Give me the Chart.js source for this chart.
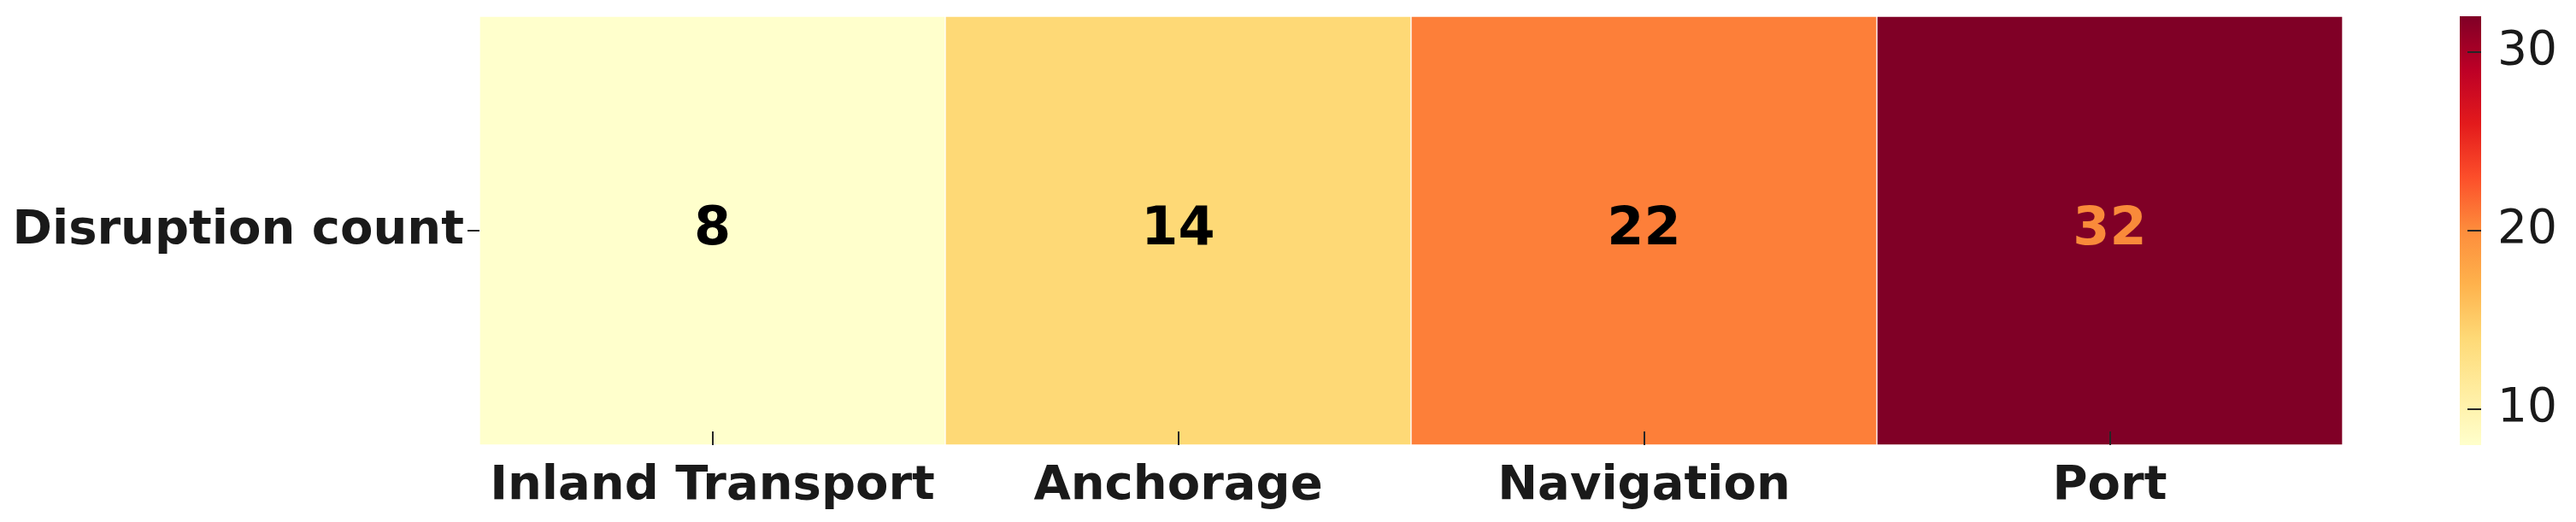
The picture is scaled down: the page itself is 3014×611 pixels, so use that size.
<!DOCTYPE html>
<html lang="en">
<head>
  <meta charset="UTF-8">
  <title>Disruption count heatmap</title>
  <script src="https://cdn.jsdelivr.net/npm/chart.js"></script>
  <style>
    html, body { margin: 0; padding: 0; background: #fff; }
    #wrap { width: 3014px; height: 611px; }
  </style>
</head>
<body>
  <div id="wrap"><canvas id="heatmap"></canvas></div>

  <script>
    // data
    const categories = ['Inland Transport', 'Anchorage', 'Navigation', 'Port'];
    const rowLabels = ['Disruption count'];
    const values = [8, 14, 22, 32];
    const colorbarTicks = [10, 20, 30];
    const colorbarMin = 8;
    const colorbarMax = 32;

    // styles
    const cellColors = ['#ffffcc', '#fed976', '#fd7f39', '#800026'];
    const annotColors = ['#000000', '#000000', '#000000', '#f98a3a'];
    const ylorrd = ['#ffffcc', '#ffeda0', '#fed976', '#feb24c', '#fd8d3c', '#fc4e2a', '#e31a1c', '#bd0026', '#800026'];
    const FONT = "'DejaVu Sans', sans-serif";

    // no extra padding from tick labels, layout is fixed by hand
    const noPad = s => { s.paddingTop = 0; s.paddingBottom = 0; s.paddingLeft = 0; s.paddingRight = 0; };

    // values inside the cells
    const annotPlugin = {
      id: 'annot',
      afterDatasetsDraw(chart) {
        const ctx = chart.ctx;
        const meta = chart.getDatasetMeta(0);
        ctx.save();
        ctx.font = 'bold 62px ' + FONT;
        ctx.textAlign = 'center';
        ctx.textBaseline = 'middle';
        meta.data.forEach((bar, i) => {
          ctx.fillStyle = annotColors[i];
          ctx.fillText(String(values[i]), bar.x, (bar.y + bar.base) / 2);
        });
        ctx.restore();
      }
    };

    // inward ticks + colorbar
    const decorPlugin = {
      id: 'decor',
      afterDraw(chart) {
        const ctx = chart.ctx;
        const area = chart.chartArea;
        const x = chart.scales.x;
        const y = chart.scales.y;
        const cb = chart.scales.cb;
        ctx.save();
        ctx.strokeStyle = '#262626';
        ctx.lineWidth = 2;
        x.ticks.forEach((t, i) => {
          const px = Math.round(x.getPixelForTick(i));
          ctx.beginPath();
          ctx.moveTo(px, area.bottom - 16);
          ctx.lineTo(px, area.bottom);
          ctx.stroke();
        });
        y.ticks.forEach(t => {
          const py = Math.round(y.getPixelForValue(t.value));
          ctx.beginPath();
          ctx.moveTo(area.left - 14, py);
          ctx.lineTo(area.left, py);
          ctx.stroke();
        });

        const left = cb.left + 137;
        const w = 25;
        const top = cb.getPixelForValue(colorbarMax);
        const bottom = cb.getPixelForValue(colorbarMin);
        const grad = ctx.createLinearGradient(0, bottom, 0, top);
        ylorrd.forEach((c, i) => grad.addColorStop(i / (ylorrd.length - 1), c));
        ctx.fillStyle = grad;
        ctx.fillRect(left, top, w, bottom - top);
        cb.ticks.forEach(t => {
          const py = Math.round(cb.getPixelForValue(t.value));
          ctx.beginPath();
          ctx.moveTo(left + 9, py);
          ctx.lineTo(left + w, py);
          ctx.stroke();
        });
        ctx.restore();
      }
    };

    new Chart(document.getElementById('heatmap'), {
      type: 'bar',
      data: {
        labels: categories,
        datasets: [{
          label: rowLabels[0],
          data: categories.map(() => [0, 1]),
          backgroundColor: cellColors,
          borderColor: '#ffffff',
          borderWidth: 1,
          borderSkipped: false,
          barPercentage: 1,
          categoryPercentage: 1
        }]
      },
      options: {
        responsive: true,
        maintainAspectRatio: false,
        animation: false,
        layout: { padding: { top: 19, left: 0, right: 0, bottom: 0 } },
        plugins: {
          legend: { display: false },
          tooltip: { enabled: false }
        },
        scales: {
          x: {
            type: 'category',
            grid: { display: false },
            border: { display: false },
            ticks: {
              font: { family: FONT, size: 56, weight: 'bold' },
              color: '#1a1a1a',
              padding: 7,
              maxRotation: 0,
              autoSkip: false
            },
            afterFit: s => { s.height = 90; noPad(s); }
          },
          y: {
            type: 'linear',
            min: 0,
            max: 1,
            grid: { display: false },
            border: { display: false },
            afterBuildTicks: s => { s.ticks = [{ value: 0.5 }]; },
            ticks: {
              font: { family: FONT, size: 56, weight: 'bold' },
              color: '#1a1a1a',
              padding: 10,
              callback: () => rowLabels[0]
            },
            afterFit: s => { s.width = 561; noPad(s); }
          },
          cb: {
            type: 'linear',
            position: 'right',
            min: colorbarMin,
            max: colorbarMax,
            // invisible tick marks push the labels past the colour strip
            grid: { display: true, drawOnChartArea: false, drawTicks: true, tickLength: 181, tickColor: 'rgba(0,0,0,0)' },
            border: { display: false },
            afterBuildTicks: s => { s.ticks = colorbarTicks.map(v => ({ value: v })); },
            ticks: {
              font: { family: FONT, size: 55 },
              color: '#1a1a1a',
              padding: 0
            },
            afterFit: s => { s.width = 273; noPad(s); }
          }
        }
      },
      plugins: [annotPlugin, decorPlugin]
    });
  </script>
</body>
</html>
